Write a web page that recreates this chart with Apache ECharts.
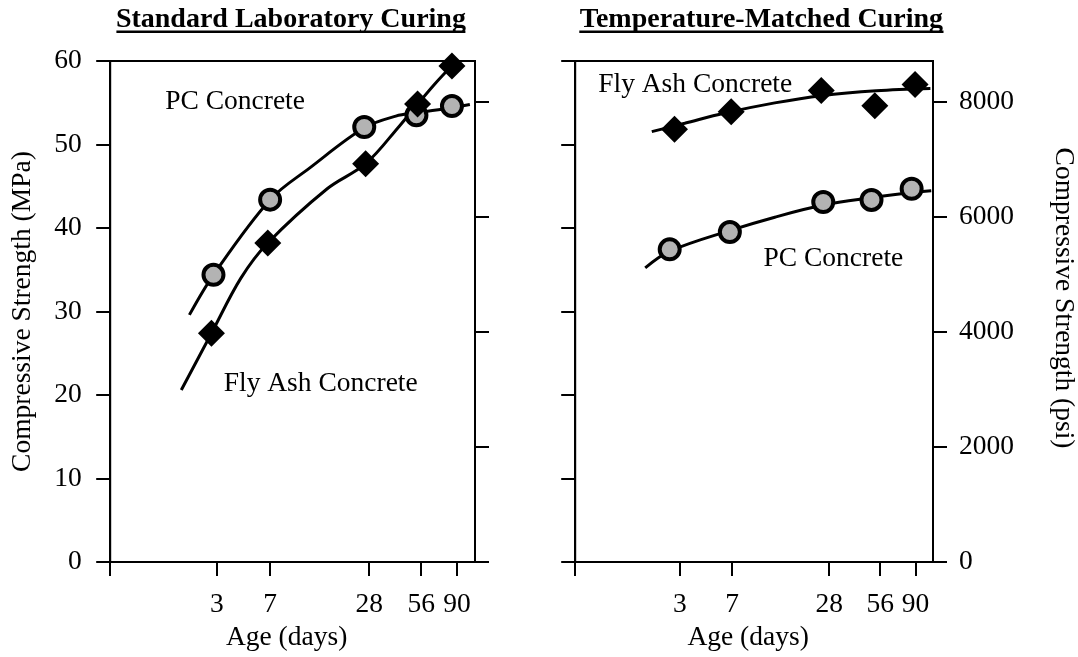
<!DOCTYPE html>
<html><head><meta charset="utf-8">
<script src="https://cdn.jsdelivr.net/npm/echarts@6/dist/echarts.min.js"></script>
<style>html,body{margin:0;padding:0;background:#fff}#c{width:1078px;height:657px}</style>
</head><body><div id="c"></div>
<script>
// ---- tick labels ----
const tickAges = [3, 7, 28, 56, 90];
const tickLabels = ['3', '7', '28', '56', '90'];
const psiTicks = [0, 2000, 4000, 6000, 8000];
const MPA_TO_PSI = 145.038;

// ---- Standard Laboratory Curing (MPa) ----
const stdPcAges = [2.83, 7.0, 26.2, 52.6, 84.1];
const stdPcMPa = [34.4, 43.4, 52.1, 53.5, 54.6];
const stdFaAges = [2.73, 6.76, 26.7, 53.4, 84.1];
const stdFaMPa = [27.4, 38.2, 47.7, 54.85, 59.4];
const stdPcCurveAges = [1.8, 2.83, 7.0, 12.4, 26.2, 40.0, 52.6, 84.1, 106.4];
const stdPcCurveMPa = [29.6, 34.4, 43.4, 47.2, 52.0, 53.4, 53.8, 54.4, 54.8];
const stdFaCurveAges = [1.52, 2.73, 4.47, 6.76, 15.8, 26.7, 41.9, 66.1, 89.2];
const stdFaCurveMPa = [20.6, 27.4, 34.0, 38.2, 44.7, 47.7, 52.2, 57.1, 60.0];

// ---- Temperature-Matched Curing (psi) ----
const tmcFaAges = [2.73, 6.91, 25.1, 52.1, 89.5];
const tmcFaPsi = [7516, 7821, 8189, 7925, 8293];
const tmcPcAges = [2.5, 6.77, 25.8, 49.8, 85.5];
const tmcPcPsi = [5431, 5731, 6254, 6289, 6484];
const tmcFaCurveAges = [1.76, 3.27, 6.16, 13.1, 25.1, 53.1, 109.9];
const tmcFaCurvePsi = [7476, 7620, 7795, 7975, 8100, 8185, 8224];
const tmcPcCurveAges = [1.53, 2.51, 6.82, 13.1, 25.8, 49.8, 85.5, 111.2];
const tmcPcCurvePsi = [5110, 5400, 5760, 5990, 6200, 6330, 6420, 6450];

// axis is log10(age + 1)
const ageToAxis = a => Math.log10(a + 1);
const tickPos = tickAges.map(ageToAxis);
const pairs = (xs, ys) => xs.map((a, i) => [ageToAxis(a), ys[i]]);

const F = '"Liberation Serif", "Times New Roman", serif';
const FS = 27.5;
const black = '#000';

function xAxis(g) {
  return {
    type: 'value', gridIndex: g, min: 0, max: 2.06,
    axisLine: { show: true, onZero: false, lineStyle: { color: black, width: 2 } },
    axisTick: { show: true, inside: false, length: 14, lineStyle: { color: black, width: 2 }, customValues: [0].concat(tickPos) },
    axisLabel: {
      customValues: tickPos, margin: 29, color: black, fontSize: FS, fontFamily: F,
      formatter: v => { const i = tickPos.findIndex(p => Math.abs(p - v) < 1e-6); return i >= 0 ? tickLabels[i] : ''; }
    },
    splitLine: { show: false },
    name: 'Age (days)', nameLocation: 'middle', nameGap: 60,
    nameTextStyle: { color: black, fontSize: FS, fontFamily: F, padding: [0, 12, 0, 0] }
  };
}
function mpaAxis(g, labels) {
  const ax = {
    type: 'value', gridIndex: g, position: 'left', min: 0, max: 60, interval: 10,
    axisLine: { show: true, lineStyle: { color: black, width: 2 } },
    axisTick: { show: true, inside: false, length: 14, lineStyle: { color: black, width: 2 } },
    axisLabel: { show: labels, margin: 28.5, color: black, fontSize: FS, fontFamily: F },
    splitLine: { show: false }
  };
  if (labels) {
    ax.name = 'Compressive Strength (MPa)';
    ax.nameLocation = 'middle'; ax.nameGap = 73; ax.nameRotate = 90;
    ax.nameTextStyle = { color: black, fontSize: FS, fontFamily: F };
  }
  return ax;
}
function psiAxis(g, labels) {
  const ax = {
    type: 'value', gridIndex: g, position: 'right', min: 0, max: 60 * MPA_TO_PSI,
    axisLine: { show: true, lineStyle: { color: black, width: 2 } },
    axisTick: { show: true, inside: false, length: 14, lineStyle: { color: black, width: 2 }, customValues: psiTicks },
    axisLabel: { show: labels, customValues: psiTicks, margin: 26, color: black, fontSize: FS, fontFamily: F,
      formatter: v => String(Math.round(v)) },
    splitLine: { show: false }
  };
  if (labels) {
    ax.name = 'Compressive Strength (psi)';
    ax.nameLocation = 'middle'; ax.nameGap = 116; ax.nameRotate = -90;
    ax.nameTextStyle = { color: black, fontSize: FS, fontFamily: F, padding: [0, 27, 0, 0] };
  }
  return ax;
}
function curve(xi, yi, data) {
  return { type: 'line', xAxisIndex: xi, yAxisIndex: yi, data: data, smooth: 0.35,
    showSymbol: false, symbol: 'none', lineStyle: { color: black, width: 3 }, silent: true, z: 2 };
}
function circles(xi, yi, data) {
  return { type: 'scatter', xAxisIndex: xi, yAxisIndex: yi, data: data, symbol: 'circle', symbolSize: 20,
    itemStyle: { color: '#b3b3b3', borderColor: black, borderWidth: 4, opacity: 1 }, silent: true, z: 3 };
}
function diamonds(xi, yi, data) {
  return { type: 'scatter', xAxisIndex: xi, yAxisIndex: yi, data: data, symbol: 'diamond', symbolSize: 27,
    itemStyle: { color: black, opacity: 1 }, silent: true, z: 4 };
}
function label(text, x, baseline) {
  return { type: 'text', x: x, y: baseline - 0.3375 * FS, z: 10,
    style: { text: text, fill: black, fontSize: FS, fontFamily: F, align: 'left', verticalAlign: 'middle' } };
}

const option = {
  animation: false,
  backgroundColor: '#fff',
  grid: [
    { left: 110.2, top: 61, width: 364.8, height: 508, show: true, borderColor: black, borderWidth: 2, backgroundColor: 'transparent' },
    { left: 575.2, top: 61, width: 364.8, height: 508, show: true, borderColor: black, borderWidth: 2, backgroundColor: 'transparent' }
  ],
  xAxis: [xAxis(0), xAxis(1)],
  yAxis: [mpaAxis(0, true), psiAxis(0, false), mpaAxis(1, false), psiAxis(1, true)],
  series: [
    curve(0, 0, pairs(stdPcCurveAges, stdPcCurveMPa)),
    curve(0, 0, pairs(stdFaCurveAges, stdFaCurveMPa)),
    circles(0, 0, pairs(stdPcAges, stdPcMPa)),
    diamonds(0, 0, pairs(stdFaAges, stdFaMPa)),
    curve(1, 3, pairs(tmcFaCurveAges, tmcFaCurvePsi)),
    curve(1, 3, pairs(tmcPcCurveAges, tmcPcCurvePsi)),
    circles(1, 3, pairs(tmcPcAges, tmcPcPsi)),
    diamonds(1, 3, pairs(tmcFaAges, tmcFaPsi))
  ],
  graphic: [
    { type: 'text', x: 290.9, y: 29.3 - 0.3375 * 28, z: 10,
      style: { text: 'Standard Laboratory Curing', fill: black, fontSize: 28, fontWeight: 'bold', fontFamily: F, align: 'center', verticalAlign: 'middle' } },
    { type: 'rect', shape: { x: 116.4, y: 30.5, width: 349, height: 2.5 }, style: { fill: black }, z: 10 },
    { type: 'text', x: 761.4, y: 29.3 - 0.3375 * 28, z: 10,
      style: { text: 'Temperature-Matched Curing', fill: black, fontSize: 28, fontWeight: 'bold', fontFamily: F, align: 'center', verticalAlign: 'middle' } },
    { type: 'rect', shape: { x: 579.3, y: 30.5, width: 364.2, height: 2.5 }, style: { fill: black }, z: 10 },
    label('PC Concrete', 165.2, 110.7),
    label('Fly Ash Concrete', 223.7, 393.3),
    label('Fly Ash Concrete', 598.2, 94),
    label('PC Concrete', 763.5, 268.3)
  ]
};
echarts.init(document.getElementById('c'), null, { renderer: 'canvas' }).setOption(option);
</script></body></html>
